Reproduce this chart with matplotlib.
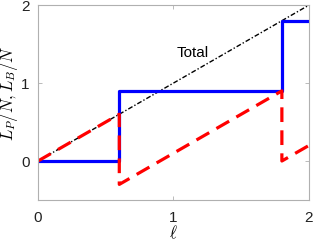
import matplotlib
matplotlib.use('Agg')
import matplotlib.pyplot as plt

# piecewise data
ell = [0, 0.6, 0.6, 1.8, 1.8, 2]
L_B = [0, 0, 0.9, 0.9, 1.8, 1.8]     # blue solid
L_P = [0, 0.6, -0.3, 0.9, 0.0, 0.2]  # red dashed
total_x = [0, 2]
total_y = [0, 2]

plt.rcParams['font.family'] = ['Liberation Sans', 'DejaVu Sans']
plt.rcParams['mathtext.fontset'] = 'cm'

fig = plt.figure(figsize=(3.14, 2.43), dpi=100)
ax = fig.add_axes([0.121, 0.177, 0.863, 0.802])

ax.plot(total_x, total_y, color='black', lw=1.0, ls='-.', dashes=(3.5, 1.5, 1, 1.5))
ax.plot(ell, L_B, color='#0000ff', lw=2.3)
ax.plot(ell, L_P, color='#ff0000', lw=2.3, dashes=(4.6, 2.6))

ax.text(1.14, 1.39, 'Total', fontsize=11, ha='center', va='center')

ax.set_xlim(0, 2)
ax.set_ylim(-0.5, 2)
ax.set_xticks([0, 1, 2])
ax.set_yticks([0, 1, 2])
ax.tick_params(direction='in', length=3, width=0.6, colors='#b0b0b0',
               labelcolor='#222222', labelsize=11, top=True, right=True, pad=6)
ax.tick_params(axis='x', pad=8)
for sp in ax.spines.values():
    sp.set_color('#b0b0b0')
    sp.set_linewidth(0.8)

ax.set_xlabel(r'$\ell$', fontsize=12, labelpad=-1)
ax.set_ylabel(r'$L_P/N, L_B/N$', fontsize=12)
ax.yaxis.set_label_coords(-0.065, 0.55)

fig.savefig('out.png', dpi=100)
